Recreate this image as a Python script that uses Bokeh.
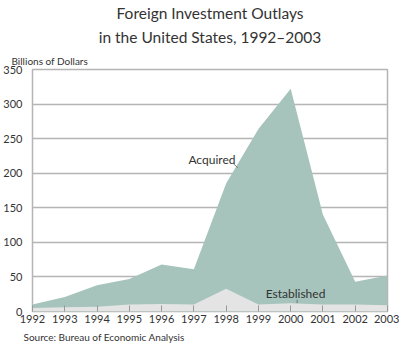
from bokeh.plotting import figure
from bokeh.models import Label, FixedTicker, Range1d, Title
from bokeh.embed import file_html
from bokeh.resources import INLINE

years = [1992, 1993, 1994, 1995, 1996, 1997, 1998, 1999, 2000, 2001, 2002, 2003]
acquired = [10, 21, 38, 47, 68, 61, 185, 264, 322, 140, 43, 52]
established = [5, 6, 7, 10, 11, 10, 33, 10, 12, 10, 10, 9]
y_ticks = [0, 50, 100, 150, 200, 250, 300, 350]

FONT = "Lato"
TXT = "#333333"
GREEN = "#a6c4bc"
GRAY_AREA = "#e4e4e4"
LINE_GRAY = "#b5b5b5"

W, H = 399, 345
LEFT = 21
p = figure(width=W, height=H, output_backend="svg", toolbar_location=None,
           x_range=Range1d(1992, 2003), y_range=Range1d(0, 350),
           min_border_left=LEFT, min_border_right=12, min_border_top=0, min_border_bottom=0)
p.background_fill_color = "white"
p.border_fill_color = "white"
p.outline_line_color = LINE_GRAY
p.outline_line_width = 1.5

p.varea(x=years, y1=0, y2=acquired, fill_color=GREEN)
p.varea(x=years, y1=0, y2=established, fill_color=GRAY_AREA)

p.xaxis.ticker = FixedTicker(ticks=years)
p.yaxis.ticker = FixedTicker(ticks=y_ticks)
p.xgrid.visible = False
p.ygrid.grid_line_color = LINE_GRAY
p.ygrid.grid_line_width = 1.5

for ax in (p.xaxis, p.yaxis):
    ax.major_label_text_font = FONT
    ax.major_label_text_font_size = "11px"
    ax.major_label_text_color = TXT
    ax.minor_tick_line_color = None
    ax.axis_line_color = None

p.xaxis.major_tick_in = 6
p.xaxis.major_tick_out = 0
p.xaxis.major_tick_line_color = "#999999"
p.xaxis.major_label_standoff = 3
p.yaxis.major_tick_line_color = None
p.yaxis.major_label_standoff = 4

def title(t, where, size, align="center", offset=0, standoff=0):
    p.add_layout(Title(text=t, align=align, offset=offset, standoff=standoff,
                       text_font=FONT, text_font_size=size, text_color=TXT,
                       text_font_style="normal"), where)

# above: first added sits nearest the frame
title("Billions of Dollars", "above", "10px", "left", -LEFT, 6)
title("in the United States, 1992\u20132003", "above", "15.5px", "center", 0, 7)
title("Foreign Investment Outlays", "above", "15.5px", "center", 0, 2)
title("Source: Bureau of Economic Analysis", "below", "10px", "left", -9, 6)

def lab(x, y, t, size, align="left"):
    p.add_layout(Label(x=x, y=y, text=t, text_font=FONT, text_font_size=size,
                       text_color=TXT, text_align=align, text_baseline="middle"))

lab(1997.56, 220, "Acquired", "12px", "center")
lab(2000.15, 26, "Established", "12px", "center")
p.segment(x0=[1998.22, 2000.2], y0=[214, 17], x1=[1998.36, 2000.2], y1=[208, 12],
          line_color="#666666", line_width=0.8)

open("out.html", "w").write(file_html(p, INLINE))
